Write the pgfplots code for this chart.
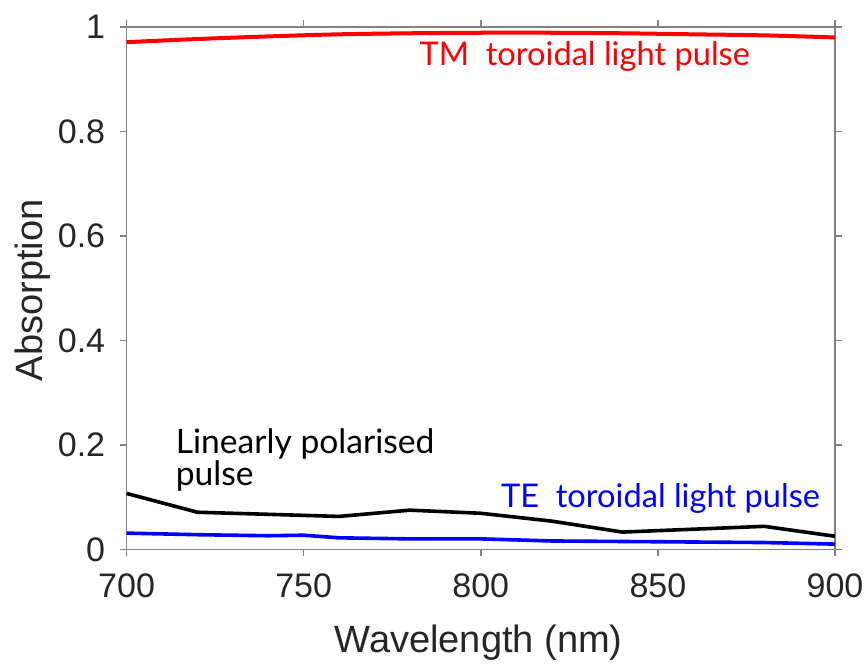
\documentclass[border=0pt]{standalone}
\usepackage{fontspec}
\setmainfont{Liberation Sans}
\newfontfamily\notefont{Lato}
\usepackage{pgfplots}
\pgfplotsset{compat=1.18}
\definecolor{axgray}{RGB}{130,130,130}
\definecolor{txtgray}{RGB}{38,38,38}
\begin{document}
\begin{tikzpicture}
  \begin{axis}[
      scale only axis,
      width=354pt, height=261pt,
      xmin=700, xmax=900, ymin=0, ymax=1,
      xtick={700,750,...,900},
      ytick={0,0.2,...,1.01},
      tick align=outside,
      major tick length=3.5pt,
      axis line style={axgray, line width=0.8pt},
      every tick/.style={axgray, line width=0.8pt},
      tick label style={font=\fontsize{17}{20}\selectfont, text=txtgray, inner sep=0pt},
      xticklabel style={anchor=north, yshift=-8.5pt},
      yticklabel style={anchor=east, xshift=-7pt},
      label style={font=\fontsize{19}{22}\selectfont, text=txtgray, inner sep=0pt},
      xlabel style={at={(axis description cs:0.497,-0.1973)}, anchor=base},
      ylabel style={at={(axis description cs:-0.1186,0.496)}, anchor=base},
      /pgf/number format/assume math mode=true,
      xlabel={Wavelength (nm)},
      ylabel={Absorption},
      clip=false,
    ]
    \coordinate (ll) at (rel axis cs:0,0);
    \coordinate (ur) at (rel axis cs:1,1);
    % TM toroidal light pulse
    \addplot [red, line width=2pt, smooth] coordinates {
      (700,0.971) (720,0.977) (740,0.982) (760,0.986) (780,0.988)
      (800,0.989) (820,0.989) (840,0.988) (860,0.986) (880,0.984) (900,0.980)};
    % linearly polarised pulse
    \addplot [black, line width=1.8pt] coordinates {
      (700,0.107) (720,0.071) (760,0.063) (780,0.075) (800,0.069)
      (820,0.054) (840,0.033) (880,0.044) (900,0.025)};
    % TE toroidal light pulse
    \addplot [blue, line width=1.8pt] coordinates {
      (700,0.031) (720,0.028) (740,0.026) (750,0.027) (760,0.022)
      (780,0.020) (800,0.020) (820,0.016) (840,0.015) (860,0.014)
      (880,0.013) (900,0.010)};
    \node [anchor=base west, text=red, font=\notefont\fontsize{16.3}{19}\selectfont, inner sep=0pt]
      at (axis cs:782.6,0.927) {TM\ \ toroidal light pulse};
    \node [anchor=base west, text=black, font=\notefont\fontsize{16.8}{19}\selectfont, inner sep=0pt]
      at (axis cs:713.8,0.184) {Linearly polarised};
    \node [anchor=base west, text=black, font=\notefont\fontsize{16.8}{19}\selectfont, inner sep=0pt]
      at (axis cs:713.8,0.123) {pulse};
    \node [anchor=base west, text=blue, font=\notefont\fontsize{16.3}{19}\selectfont, inner sep=0pt]
      at (axis cs:805.6,0.081) {TE\ \ toroidal light pulse};
  \end{axis}
  \pgfresetboundingbox
  \path ([shift={(-63.25pt,-57pt)}]ll) rectangle ([shift={(15pt,13.5pt)}]ur);
\end{tikzpicture}
\end{document}
